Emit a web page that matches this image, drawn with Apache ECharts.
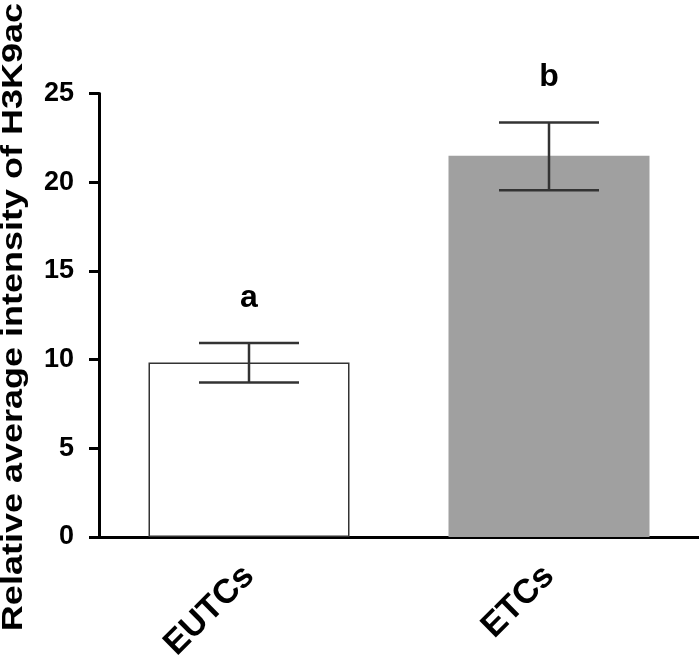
<!DOCTYPE html>
<html>
<head>
<meta charset="utf-8">
<script src="https://cdn.jsdelivr.net/npm/echarts@6/dist/echarts.min.js"></script>
<style>
html, body { margin: 0; padding: 0; background: #fff; }
#chart { width: 699px; height: 663px; }
</style>
</head>
<body>
<div id="chart"></div>
<script>
// data
var categories = ['EUTCs', 'ETCs'];
var means = [9.84, 21.49];
var errLow = [8.71, 19.54];
var errHigh = [10.94, 23.37];
var letters = ['a', 'b'];
var barColors = ['#ffffff', '#a0a0a0'];
var borderColors = ['#333333', '#a0a0a0'];
var yTicks = [0, 5, 10, 15, 20, 25];
var yTitle = 'Relative average intensity of H3K9ac';

var chart = echarts.init(document.getElementById('chart'));

var fontFam = '"Liberation Sans", Arial, sans-serif';

chart.setOption({
    animation: false,
    grid: {
        left: 99,
        right: 0,
        top: 93.5,
        bottom: 126,
        outerBoundsMode: 'none'
    },
    // y title is stretched along its length in the original
    graphic: [{
        type: 'text',
        x: 14,
        y: 317,
        rotation: Math.PI / 2,
        scaleX: 1.2,
        style: {
            text: yTitle,
            fill: '#000',
            font: 'bold 30px ' + fontFam,
            align: 'center',
            verticalAlign: 'middle'
        }
    }],
    xAxis: {
        type: 'category',
        data: categories,
        axisLine: { lineStyle: { color: '#000', width: 3 } },
        axisTick: { show: false },
        axisLabel: {
            rotate: 45,
            margin: 34,
            color: '#000',
            fontSize: 34,
            fontWeight: 'bold',
            fontFamily: fontFam
        }
    },
    yAxis: {
        type: 'value',
        min: yTicks[0],
        max: yTicks[yTicks.length - 1],
        interval: 5,
        splitLine: { show: false },
        axisLine: { show: true, lineStyle: { color: '#000', width: 3 } },
        axisTick: { show: true, length: 10, lineStyle: { color: '#000', width: 3 } },
        axisLabel: {
            margin: 25,
            color: '#000',
            fontSize: 27,
            fontWeight: 'bold',
            fontFamily: fontFam
        }
    },
    series: [{
        type: 'bar',
        barCategoryGap: '33%',
        data: means.map(function(v, i) {
            return {
                value: v,
                itemStyle: {
                    color: barColors[i],
                    borderColor: borderColors[i],
                    borderWidth: 1.5
                }
            };
        })
    }, {
        // error bars + significance letters
        type: 'custom',
        data: categories.map(function(c, i) {
            return [i, errLow[i], errHigh[i]];
        }),
        z: 10,
        renderItem: function(params, api) {
            var i = api.value(0);
            var lo = api.coord([i, api.value(1)]);
            var hi = api.coord([i, api.value(2)]);
            var half = 50;
            var style = { stroke: '#333', lineWidth: 2.5 };
            return {
                type: 'group',
                children: [{
                    type: 'line',
                    shape: { x1: hi[0], y1: hi[1], x2: lo[0], y2: lo[1] },
                    style: style
                }, {
                    type: 'line',
                    shape: { x1: hi[0] - half, y1: hi[1], x2: hi[0] + half, y2: hi[1] },
                    style: style
                }, {
                    type: 'line',
                    shape: { x1: lo[0] - half, y1: lo[1], x2: lo[0] + half, y2: lo[1] },
                    style: style
                }, {
                    type: 'text',
                    x: hi[0],
                    y: hi[1] - 29,
                    style: {
                        text: letters[params.dataIndex],
                        fill: '#000',
                        font: 'bold 32px ' + fontFam,
                        align: 'center',
                        verticalAlign: 'bottom'
                    }
                }]
            };
        }
    }]
});
</script>
</body>
</html>
